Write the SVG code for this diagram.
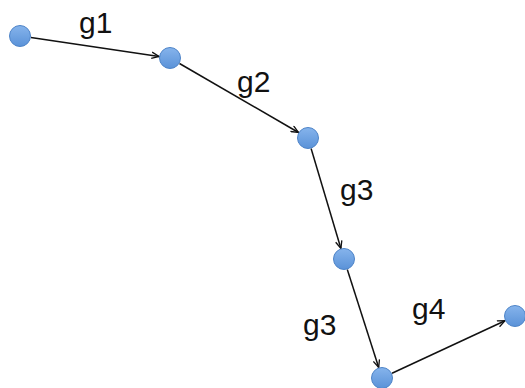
<svg xmlns="http://www.w3.org/2000/svg" width="525" height="388" viewBox="0 0 525 388">
  <defs>
    <linearGradient id="nodeFill" x1="0" y1="0" x2="0" y2="1">
      <stop offset="0" stop-color="#86b4ec"/>
      <stop offset="1" stop-color="#5a92d8"/>
    </linearGradient>
    <marker id="arrow" markerWidth="10" markerHeight="8" refX="8" refY="4" orient="auto" markerUnits="userSpaceOnUse">
      <path d="M0.5,0.8 L8,4 L0.5,7.2" fill="none" stroke="#111" stroke-width="1.3"/>
    </marker>
  </defs>
  <style>
    .node { fill: url(#nodeFill); stroke: #4e84c8; stroke-width: 1; }
    .edge { stroke: #111; stroke-width: 1.5; fill: none; marker-end: url(#arrow); }
    .label { font-family: "Liberation Sans", Arial, sans-serif; font-size: 30px; fill: #111; }
  </style>

  <g id="connectors">
    <line class="edge" x1="30.9" y1="37.6" x2="159.1" y2="56.4"/>
    <line class="edge" x1="179.5" y1="63.5" x2="298.5" y2="132.5"/>
    <line class="edge" x1="311.1" y1="148.5" x2="340.9" y2="248.5"/>
    <line class="edge" x1="347.3" y1="269.5" x2="378.7" y2="367.5"/>
    <line class="edge" x1="392" y1="373.3" x2="505" y2="320.7"/>
  </g>

  <g id="n1"><circle class="node" cx="20" cy="36" r="10.5"/></g>
  <g id="n2"><circle class="node" cx="170" cy="58" r="10.5"/></g>
  <g id="n3"><circle class="node" cx="308" cy="138" r="10.5"/></g>
  <g id="n4"><circle class="node" cx="344" cy="259" r="10.5"/></g>
  <g id="n5"><circle class="node" cx="382" cy="378" r="10.5"/></g>
  <g id="n6"><circle class="node" cx="515" cy="316" r="10.5"/></g>

  <g id="labels">
    <text class="label" x="79" y="33">g1</text>
    <text class="label" x="237" y="92">g2</text>
    <text class="label" x="340" y="200">g3</text>
    <text class="label" x="303" y="335">g3</text>
    <text class="label" x="412" y="319">g4</text>
  </g>
</svg>
